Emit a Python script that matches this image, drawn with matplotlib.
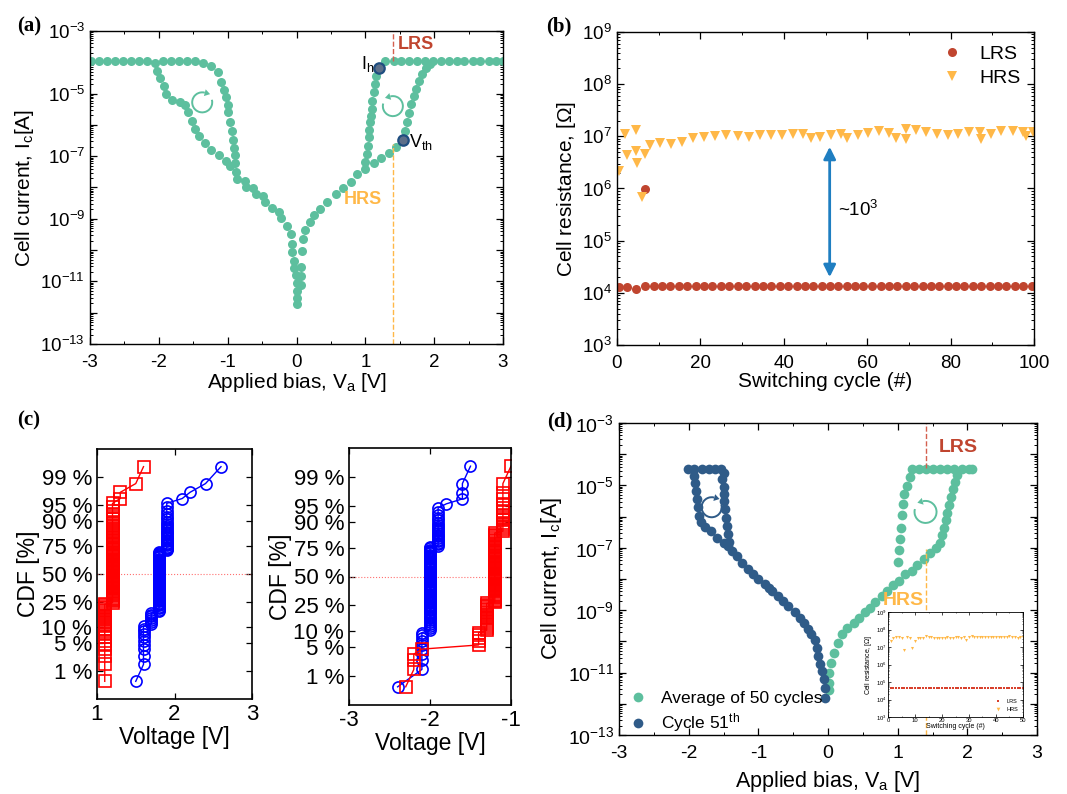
import numpy as np
import matplotlib
matplotlib.use('Agg')
import matplotlib.pyplot as plt
import matplotlib.transforms as mtransforms
from matplotlib.patches import Arc, Polygon
from matplotlib.ticker import LogLocator, NullFormatter, MultipleLocator
from statistics import NormalDist

plt.rcParams['font.family'] = ['Liberation Sans', 'DejaVu Sans']
plt.rcParams['mathtext.fontset'] = 'custom'
plt.rcParams['mathtext.rm'] = 'Liberation Sans'
plt.rcParams['mathtext.it'] = 'Liberation Sans:italic'
plt.rcParams['mathtext.bf'] = 'Liberation Sans:bold'
plt.rcParams['axes.unicode_minus'] = False

TEAL = '#5dbf9e'
NAVY = '#2f5b88'
LRS_C = '#c0452f'
HRS_C = '#ffb848'

# ---------------- (a) I-V sweep, log10 of current ----------------
a_pos_v = [0.01, 0.01, 0.06, 0.07, 0.06, 0.08, 0.09, 0.12, 0.19, 0.26, 0.34, 0.44, 0.57, 0.67,
           0.79, 0.88, 1.00, 1.12, 1.23, 1.35, 1.45,
           1.57, 1.60, 1.63, 1.67, 1.70, 1.74, 1.78, 1.82, 1.88, 1.94,
           1.98, 2.10, 2.21, 2.33, 2.44, 2.56, 2.67, 2.79, 2.90, 3.00,
           1.87, 1.75, 1.64, 1.52, 1.41, 1.29,
           1.16, 1.14, 1.12, 1.10, 1.09, 1.08, 1.07, 1.06, 1.05, 1.04, 1.02, 1.00]
a_pos_logi = [-11.72, -11.53, -11.11, -10.84, -10.55, -10.02, -9.64, -9.35, -9.11, -8.89, -8.68, -8.45, -8.20, -8.02,
              -7.84, -7.57, -7.40, -7.23, -7.06, -6.90, -6.72,
              -6.18, -5.92, -5.63, -5.33, -5.07, -4.85, -4.61, -4.37, -4.18, -4.04,
              -3.97, -3.97, -3.97, -3.97, -3.97, -3.97, -3.97, -3.97, -3.97, -3.97,
              -3.97, -3.97, -3.97, -3.97, -3.97, -3.97,
              -4.43, -4.69, -4.96, -5.23, -5.49, -5.70, -5.92, -6.16, -6.40, -6.66, -6.93, -7.20]
a_neg_v = [-2.98, -2.87, -2.75, -2.64, -2.52, -2.40, -2.29, -2.17, -2.06, -1.94, -1.82, -1.70, -1.59, -1.47, -1.36, -1.24,
           -1.14, -1.10, -1.06, -1.03, -1.00, -0.99, -0.96, -0.94, -0.92, -0.91, -0.90, -0.90, -0.88, -0.86,
           -2.02, -1.98, -1.93, -1.89, -1.81, -1.69, -1.62, -1.58, -1.52, -1.48, -1.41, -1.33, -1.24, -1.13, -1.03, -0.96,
           -0.75, -0.74, -0.63, -0.59, -0.49, -0.46, -0.35, -0.26, -0.22, -0.14, -0.08, -0.07, -0.06, -0.04, -0.03, -0.01,
           0.00, 0.00]
a_neg_logi = [-3.97, -3.97, -3.97, -3.97, -3.97, -3.97, -3.97, -3.97, -4.03, -3.97, -3.97, -3.97, -3.97, -3.97, -4.01, -4.12,
              -4.32, -4.62, -4.88, -5.12, -5.36, -5.60, -5.92, -6.20, -6.48, -6.74, -6.96, -7.22, -7.49, -7.72,
              -4.29, -4.50, -4.75, -5.01, -5.20, -5.28, -5.36, -5.60, -5.86, -6.13, -6.37, -6.59, -6.79, -6.96, -7.14, -7.30,
              -7.79, -7.97, -8.02, -8.21, -8.27, -8.47, -8.64, -8.77, -8.98, -9.22, -9.49, -9.81, -10.07, -10.34, -10.57, -10.81,
              -11.05, -11.32]
a_ih = (1.20, -4.19)
a_vth = (1.54, -6.48)

# ---------------- (b) endurance ----------------
b_lrs_cycle = [0.5, 2.5, 4.6, 6.7, 8.8, 10.8, 12.8, 14.8, 16.9, 18.9, 20.9, 22.9, 24.9, 26.9, 29.0, 31.0, 33.0,
               35.0, 37.0, 39.1, 41.1, 43.1, 45.1, 47.1, 49.1, 51.1, 53.1, 55.1, 57.1, 59.1, 61.2, 63.2, 65.2,
               67.2, 69.2, 71.2, 73.3, 75.3, 77.3, 79.3, 81.3, 83.3, 85.4, 87.4, 89.4, 91.4, 93.4, 95.4, 97.4, 99.5,
               6.6]
b_lrs_ohm = [1.30e4, 1.31e4, 1.20e4, 1.35e4, 1.33e4, 1.33e4, 1.33e4, 1.33e4, 1.33e4, 1.33e4, 1.33e4, 1.33e4,
             1.33e4, 1.33e4, 1.33e4, 1.33e4, 1.33e4, 1.34e4, 1.34e4, 1.34e4, 1.34e4, 1.34e4, 1.34e4, 1.34e4,
             1.34e4, 1.35e4, 1.35e4, 1.35e4, 1.35e4, 1.35e4, 1.35e4, 1.35e4, 1.35e4, 1.35e4, 1.35e4, 1.35e4,
             1.35e4, 1.35e4, 1.35e4, 1.35e4, 1.35e4, 1.35e4, 1.35e4, 1.35e4, 1.35e4, 1.35e4, 1.35e4, 1.35e4,
             1.35e4, 1.35e4, 9.6e5]
b_hrs_cycle = [0.5, 1.8, 2.5, 4.5, 4.6, 4.9, 6.0, 6.6, 7.8, 10.2, 12.9, 15.6, 18.2, 20.9, 23.6, 26.2, 28.9,
               31.6, 34.2, 36.9, 39.6, 42.2, 44.6, 46.5, 48.6, 51.4, 53.8, 55.2, 57.7, 60.2, 62.9, 65.3, 67.0,
               69.2, 69.2, 71.8, 74.2, 76.8, 79.3, 81.8, 84.5, 87.0, 87.2, 89.8, 92.2, 94.9, 97.3, 98.2, 99.8]
b_hrs_ohm = [2.2e6, 1.1e7, 4.4e6, 1.3e7, 5.2e6, 3.1e6, 6.9e5, 4.6e6, 6.8e6, 7.3e6, 7.2e6, 7.8e6, 9.1e6, 9.6e6,
             1.0e7, 1.05e7, 1.0e7, 9.5e6, 1.05e7, 1.05e7, 1.05e7, 1.12e7, 1.1e7, 9.3e6, 9.8e6, 1.05e7, 1.12e7,
             9.1e6, 1.05e7, 1.17e7, 1.26e7, 1.17e7, 9.3e6, 1.4e7, 8.7e6, 1.3e7, 1.2e7, 1.1e7, 1.05e7, 1.12e7,
             1.2e7, 1.23e7, 8.7e6, 1.1e7, 1.26e7, 1.28e7, 1.23e7, 1.0e7, 1.23e7]

# ---------------- (c) CDF of switching voltages (value, count) ----------------
c_set_red_v = [1.1, 1.2, 1.3, 1.5, 1.6]
c_set_red_n = [24, 72, 2, 1, 1]
c_set_blue_v = [1.5, 1.6, 1.7, 1.8, 1.9, 2.1, 2.2, 2.4, 2.6]
c_set_blue_n = [1, 10, 7, 53, 25, 1, 1, 1, 1]
c_reset_blue_v = [-2.4, -2.1, -2.0, -1.9, -1.8, -1.6, -1.5]
c_reset_blue_n = [1, 9, 66, 19, 1, 3, 1]
c_reset_red_v = [-2.3, -2.2, -2.1, -1.4, -1.3, -1.2, -1.1, -1.0]
c_reset_red_n = [1, 3, 1, 5, 17, 58, 14, 1]
c_pct = [1, 5, 10, 25, 50, 75, 90, 95, 99]

# ---------------- (d) average of 50 cycles vs cycle 51 ----------------
d_avg_v = [0.01, 0.01, 0.01, 0.05, 0.08, 0.14, 0.20, 0.27, 0.37, 0.44, 0.53, 0.61, 0.67, 0.77, 0.85, 0.94,
           1.02, 1.10, 1.20, 1.28, 1.38, 1.47, 1.55, 1.61,
           1.64, 1.67, 1.69, 1.71, 1.74, 1.76, 1.79, 1.82, 1.85,
           2.06, 2.02, 1.92, 1.81, 1.71, 1.61, 1.51, 1.40, 1.31, 1.20,
           1.17, 1.13, 1.09, 1.07, 1.06, 1.05, 1.03, 1.02, 1.01]
d_avg_logi = [-11.55, -11.32, -11.00, -10.68, -10.36, -10.04, -9.77, -9.56, -9.40, -9.24, -9.05, -8.92, -8.73,
              -8.55, -8.38, -8.20, -8.07, -7.84, -7.74, -7.56, -7.37, -7.18, -7.00, -6.86,
              -6.59, -6.35, -6.11, -5.88, -5.63, -5.37, -5.13, -4.89, -4.67,
              -4.48, -4.48, -4.48, -4.48, -4.48, -4.48, -4.48, -4.48, -4.48, -4.48,
              -4.73, -5.02, -5.26, -5.60, -5.95, -6.35, -6.73, -7.07, -7.45]
d_c51_v = [-2.01, -1.92, -1.81, -1.71, -1.62, -1.53, -1.50,
           -1.93, -1.91, -1.90, -1.88, -1.87, -1.85, -1.82, -1.76, -1.68, -1.60, -1.49, -1.43, -1.38, -1.31,
           -1.24, -1.15, -1.07, -1.00, -0.90, -0.85, -0.81, -0.72, -0.64, -0.57, -0.47, -0.40, -0.34, -0.28,
           -0.24, -0.19, -0.16, -0.14, -0.11, -0.09, -0.06, -0.05, -0.04,
           -1.52, -1.50, -1.49, -1.49, -1.48, -1.47, -1.45, -1.44, -1.42]
d_c51_logi = [-4.48, -4.48, -4.48, -4.48, -4.48, -4.48, -4.60,
              -4.70, -4.92, -5.18, -5.43, -5.68, -5.98, -6.18, -6.33, -6.46, -6.68, -6.86, -6.94, -7.10, -7.26,
              -7.48, -7.67, -7.85, -7.99, -8.17, -8.28, -8.38, -8.54, -8.71, -8.87, -9.06, -9.24, -9.42, -9.61,
              -9.77, -9.95, -10.20, -10.47, -10.73, -10.95, -11.21, -11.50, -11.80,
              -4.81, -5.04, -5.26, -5.50, -5.77, -6.04, -6.30, -6.57, -6.82]

# inset: 50 cycles
ins_cycle = list(range(1, 51))
ins_lrs_ohm = [4.6e4] * 50
ins_hrs_ohm = [2.2e7, 3.3e7, 3.9e7, 3.6e7, 3.4e7, 7.0e6, 3.7e7, 3.4e7, 9.0e6, 2.2e7, 3.4e7, 3.3e7, 3.4e7,
               4.5e7, 3.8e7, 3.5e7, 3.4e7, 3.3e7, 3.4e7, 3.3e7, 3.4e7, 3.5e7, 3.3e7, 3.4e7, 3.6e7, 3.8e7,
               3.4e7, 3.5e7, 2.4e7, 3.6e7, 4.0e7, 3.8e7, 3.6e7, 3.5e7, 3.6e7, 3.7e7, 3.5e7, 3.6e7, 3.8e7,
               3.6e7, 3.7e7, 3.8e7, 3.9e7, 3.7e7, 4.1e7, 3.9e7, 3.7e7, 3.2e7, 3.7e7, 3.9e7]

W, H = 1067, 794
fig = plt.figure(figsize=(W / 100, H / 100), dpi=100)


def px_axes(l, t, r, b):
    return fig.add_axes([l / W, 1 - b / H, (r - l) / W, (b - t) / H])


def style_ticks(ax, size=13.5):
    ax.tick_params(which='both', direction='in', top=True, right=True, labelsize=size)
    ax.tick_params(which='major', length=5, width=0.9)
    ax.tick_params(which='minor', length=2.5, width=0.7)
    ax.tick_params(axis='x', which='major', pad=7)
    for s in ax.spines.values():
        s.set_linewidth(1.0)


def log_ticks(ax, lo, hi, step):
    exps = list(range(lo, hi + 1))
    labels = [r'10$^{\mathregular{%d}}$' % e if (e - lo) % step == 0 else '' for e in exps]
    ax.set_yticks([10.0 ** e for e in exps], labels)
    ax.yaxis.set_minor_locator(LogLocator(base=10, subs=np.arange(2, 10), numticks=30))
    ax.yaxis.set_minor_formatter(NullFormatter())


def tolin(lst):
    return [10.0 ** v for v in lst]


def circ_arrow(ax, x, y, color, clockwise, r=0.10):
    # thin open-circle arrow, drawn in inches around a data point
    tr = fig.dpi_scale_trans + mtransforms.ScaledTranslation(x, 10 ** y, ax.transData)
    if clockwise:
        head, t1, t2 = 75, 75, 15
        tang = np.array([np.sin(np.radians(head)), -np.cos(np.radians(head))])
    else:
        head, t1, t2 = 105, 165, 105
        tang = np.array([-np.sin(np.radians(head)), np.cos(np.radians(head))])
    ax.add_patch(Arc((0, 0), 2 * r, 2 * r, theta1=t1, theta2=t2, transform=tr, color=color, lw=1.4))
    p = r * np.array([np.cos(np.radians(head)), np.sin(np.radians(head))])
    nrm = p / r
    tri = [p + tang * 0.055, p + nrm * 0.035, p - nrm * 0.035]
    ax.add_patch(Polygon(tri, closed=True, transform=tr, color=color, lw=0))


# ----- (a) -----
ax = px_axes(90, 31, 503, 344)
ax.set_yscale('log')
ax.plot(a_neg_v, tolin(a_neg_logi), 'o', color=TEAL, ms=6.5, mew=0)
ax.plot(a_pos_v, tolin(a_pos_logi), 'o', color=TEAL, ms=6.5, mew=0)
for pt in (a_ih, a_vth):
    ax.plot(pt[0], 10 ** pt[1], 'o', ms=7.5, mfc='#5d6f89', mec='#1f4e80', mew=1.6)
ax.vlines(1.4, 1.1e-4, 1e-3, colors='#d4604f', linestyles='--', lw=1)
ax.vlines(1.4, 1e-13, 2.5e-7, colors=HRS_C, linestyles='--', lw=1)
ax.text(1.73, 10 ** -3.42, 'LRS', color=LRS_C, fontsize=13, fontweight='bold', ha='center', va='center')
ax.text(0.97, 10 ** -8.37, 'HRS', color=HRS_C, fontsize=13, fontweight='bold', ha='center', va='center')
ax.text(1.13, 10 ** -4.05, r'I$_\mathrm{h}$', fontsize=13, ha='right', va='center')
ax.text(1.64, 10 ** -6.55, r'V$_\mathrm{th}$', fontsize=13, ha='left', va='center')
circ_arrow(ax, -1.37, -5.28, TEAL, True)
circ_arrow(ax, 1.40, -5.40, TEAL, False)
ax.set_xlim(-3, 3)
ax.set_ylim(1e-13, 1e-3)
ax.xaxis.set_major_locator(MultipleLocator(1))
ax.xaxis.set_minor_locator(MultipleLocator(0.5))
log_ticks(ax, -13, -3, 2)
style_ticks(ax)
ax.set_xlabel(r'Applied bias, V$_\mathrm{a}$ [V]', fontsize=15, labelpad=0)
ax.set_ylabel(r'Cell current, I$_\mathrm{c}$[A]', fontsize=15, labelpad=3)

# ----- (b) -----
ax = px_axes(617, 32, 1034, 345)
ax.set_yscale('log')
ax.plot(b_lrs_cycle, b_lrs_ohm, 'o', color='#c0452f', ms=6.5, mew=0, label='LRS')
ax.plot(b_hrs_cycle, b_hrs_ohm, 'v', color=HRS_C, ms=7.5, mew=0, label='HRS')
ax.annotate('', xy=(51, 2.0e4), xytext=(51, 6.3e6),
            arrowprops=dict(arrowstyle='<|-|>', color='#1f7ec1', lw=2, mutation_scale=18, shrinkA=0, shrinkB=0))
ax.text(53, 3.9e5, r'~10$^\mathrm{3}$', fontsize=13.5, ha='left', va='center')
ax.set_xlim(0, 100)
ax.set_ylim(1e3, 1e9)
ax.xaxis.set_major_locator(MultipleLocator(20))
ax.xaxis.set_minor_locator(MultipleLocator(10))
log_ticks(ax, 3, 9, 1)
style_ticks(ax)
ax.legend(loc='upper right', frameon=False, fontsize=14, handletextpad=0.8, borderaxespad=0.3,
          labelspacing=0.3, handlelength=1.2)
ax.set_xlabel('Switching cycle (#)', fontsize=15, labelpad=0)
ax.set_ylabel(r'Cell resistance, [$\Omega$]', fontsize=15, labelpad=3)

# ----- (c) -----
nd = NormalDist()
pct_pos = [nd.inv_cdf(p / 100) for p in c_pct]
pct_lab = ['%d %%' % p for p in c_pct]


def cdf_plot(ax, vals, counts, marker, color):
    v = np.repeat(vals, counts)
    n = len(v)
    z = [nd.inv_cdf((i - 0.5) / n) for i in range(1, n + 1)]
    ax.plot(v, z, '-' + marker, color=color, mfc='none', mec=color, ms=8, mew=1.2, lw=1.0)


for box, xl, xt, series in [
        ((97, 449, 252, 699), (1, 3), [1, 2, 3],
         [(c_set_red_v, c_set_red_n, 's', 'r'), (c_set_blue_v, c_set_blue_n, 'o', 'b')]),
        ((349, 448, 511, 705), (-3, -1), [-3, -2, -1],
         [(c_reset_blue_v, c_reset_blue_n, 'o', 'b'), (c_reset_red_v, c_reset_red_n, 's', 'r')])]:
    ax = px_axes(*box)
    ax.axhline(0, color='#ff7070', ls=':', lw=0.8)
    for vals, counts, mk, col in series:
        cdf_plot(ax, vals, counts, mk, col)
    ax.set_xlim(*xl)
    ax.set_ylim(-3.0, 3.0)
    ax.set_xticks(xt, [str(t) for t in xt])
    ax.set_yticks(pct_pos, pct_lab)
    ax.tick_params(direction='in', top=True, right=True, labelsize=16, length=4, width=0.9)
    for s in ax.spines.values():
        s.set_linewidth(1.2)
    ax.set_xlabel('Voltage [V]', fontsize=16.5, labelpad=1)
    ax.set_ylabel('CDF [%]', fontsize=16.5, labelpad=1)

# ----- (d) -----
ax = px_axes(619, 423, 1037, 735)
ax.set_yscale('log')
ax.plot(d_avg_v, tolin(d_avg_logi), 'o', color=TEAL, ms=7, mew=0, label='Average of 50 cycles')
ax.plot(d_c51_v, tolin(d_c51_logi), 'o', color=NAVY, ms=7, mew=0, label=r'Cycle 51$^\mathrm{th}$')
ax.vlines(1.4, 3.6e-5, 1e-3, colors='#d4604f', linestyles='--', lw=1)
ax.vlines(1.4, 1e-13, 9e-8, colors=HRS_C, linestyles='--', lw=1)
ax.text(1.87, 10 ** -3.8, 'LRS', color=LRS_C, fontsize=14, fontweight='bold', ha='center', va='center')
ax.text(1.38, 10 ** -8.7, 'HRS', color=HRS_C, fontsize=14, fontweight='bold', ha='right', va='center')
circ_arrow(ax, -1.67, -5.70, NAVY, True)
circ_arrow(ax, 1.40, -5.85, TEAL, False, r=0.11)
ax.set_xlim(-3, 3)
ax.set_ylim(1e-13, 1e-3)
ax.xaxis.set_major_locator(MultipleLocator(1))
ax.xaxis.set_minor_locator(MultipleLocator(0.5))
log_ticks(ax, -13, -3, 2)
style_ticks(ax, size=14)
ax.legend(loc='lower left', bbox_to_anchor=(0.0, -0.02), frameon=False, fontsize=12.5,
          handletextpad=0.6, borderaxespad=0.0, labelspacing=0.3, handlelength=1.4)
ax.set_xlabel(r'Applied bias, V$_\mathrm{a}$ [V]', fontsize=15.5, labelpad=5)
ax.set_ylabel(r'Cell current, I$_\mathrm{c}$[A]', fontsize=15.5, labelpad=3)

# inset
axi = px_axes(888, 612, 1023, 717)
axi.set_yscale('log')
axi.plot(ins_cycle, ins_lrs_ohm, 's', color='#d8402c', ms=1.6, mew=0, label='LRS')
axi.plot(ins_cycle, ins_hrs_ohm, 'v', color=HRS_C, ms=2.2, mew=0, label='HRS')
axi.set_xlim(0, 50)
axi.set_ylim(1e3, 1e9)
axi.xaxis.set_major_locator(MultipleLocator(10))
axi.xaxis.set_minor_locator(MultipleLocator(5))
exps = list(range(3, 10))
axi.set_yticks([10.0 ** e for e in exps], [r'10$^{\mathregular{%d}}$' % e for e in exps])
axi.yaxis.set_minor_locator(LogLocator(base=10, subs=np.arange(2, 10), numticks=30))
axi.yaxis.set_minor_formatter(NullFormatter())
axi.tick_params(which='both', direction='in', top=True, right=True, labelsize=4.2, pad=1)
axi.tick_params(which='major', length=2, width=0.5)
axi.tick_params(which='minor', length=1, width=0.4)
for s in axi.spines.values():
    s.set_linewidth(0.6)
axi.legend(loc='lower right', frameon=False, fontsize=4, handletextpad=0.5, markerscale=1.2)
axi.set_xlabel('Switching cycle (#)', fontsize=5, labelpad=0)
axi.set_ylabel(r'Cell resistance, [$\Omega$]', fontsize=5, labelpad=1)

# panel labels
for lab, x, y in [('(a)', 17, 26), ('(b)', 546, 26), ('(c)', 17, 420), ('(d)', 547, 421)]:
    fig.text(x / W, 1 - y / H, lab, fontsize=15, fontweight='bold', family='Liberation Serif',
             ha='left', va='center')

fig.savefig('out.png', dpi=100)
